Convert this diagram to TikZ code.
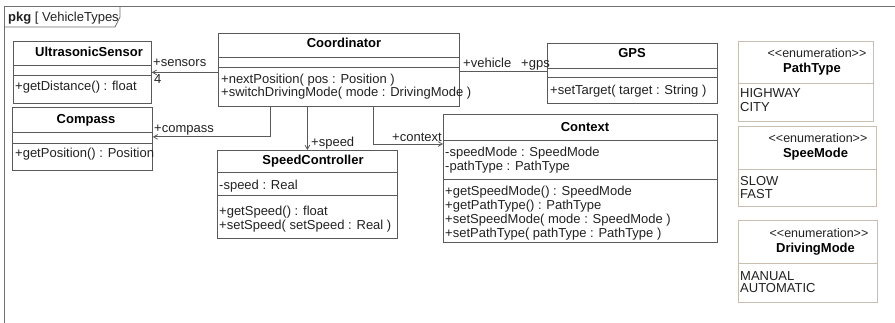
\documentclass[tikz,border=0pt]{standalone}
\usepackage{fontspec}
\setmainfont{Liberation Sans}
\usetikzlibrary{arrows,positioning,calc}

\definecolor{umlgray}{HTML}{5A5A5A}
\definecolor{framegray}{HTML}{707070}
\definecolor{enumtan}{HTML}{C8BEB2}
\definecolor{inkgray}{HTML}{222222}

\tikzset{
  umlbox/.style={draw=umlgray, line width=0.8pt, anchor=north west, inner sep=0pt},
  enumbox/.style={umlbox, draw=enumtan},
  part/.style={draw=umlgray, line width=0.8pt},
  enumpart/.style={draw=enumtan, line width=0.8pt},
  member/.style={anchor=base west, inner sep=0pt, text=inkgray},
  classname/.style={anchor=base, inner sep=0pt, font=\fontsize{13}{14}\selectfont\bfseries},
  stereo/.style={anchor=base, inner sep=0pt, text=inkgray, font=\fontsize{12.5}{14}\selectfont},
  assoc/.style={draw=umlgray, line width=0.8pt, ->, >=angle 60},
  link/.style={draw=umlgray, line width=0.8pt},
}

\begin{document}
\begin{tikzpicture}[x=1pt, y=-1pt, every node/.style={font=\fontsize{13}{14}\selectfont}]

\path[fill=white, use as bounding box] (0,0) rectangle (895,323);

% package frame
\draw[framegray, line width=0.9pt] (4,323) -- (4,6) -- (895,6);
\draw[framegray, line width=0.8pt] (4,27) -- (115,27) -- (120,17) -- (120,6);
\node[member] (pkg) at (8,21.5) {\textbf{pkg} [ VehicleTypes};

% classes
\node[umlbox, minimum width=138, minimum height=62] (us) at (13,41) {};
\draw[part] (us.west |- 0,65) -- (us.east |- 0,65);
\draw[part] (us.west |- 0,75) -- (us.east |- 0,75);
\node[classname] (usname) at (89,57) {UltrasonicSensor};
\node[member] (usop) at (15,91) {+getDistance() : float};

\node[umlbox, minimum width=140, minimum height=63] (comp) at (12,107) {};
\draw[part] (comp.west |- 0,132) -- (comp.east |- 0,132);
\draw[part] (comp.west |- 0,143) -- (comp.east |- 0,143);
\node[classname] (compname) at (86,123.5) {Compass};
\node[member] (compop) at (15,158) {+getPosition() : Position};

\node[umlbox, minimum width=241, minimum height=73] (coord) at (218,33) {};
\draw[part] (coord.west |- 0,57) -- (coord.east |- 0,57);
\draw[part] (coord.west |- 0,67) -- (coord.east |- 0,67);
\node[classname] (coordname) at (344,48) {Coordinator};
\node[member] (coordopa) at (221,83.5) {+nextPosition( pos : Position )};
\node[member] (coordopb) at (221,97) {+switchDrivingMode( mode : DrivingMode )};

\node[umlbox, minimum width=170, minimum height=60] (gps) at (547,43) {};
\draw[part] (gps.west |- 0,68) -- (gps.east |- 0,68);
\draw[part] (gps.west |- 0,77) -- (gps.east |- 0,77);
\node[classname] (gpsname) at (632,57.5) {GPS};
\node[member] (gpsop) at (550,94.5) {+setTarget( target : String )};

\node[umlbox, minimum width=274, minimum height=128] (ctx) at (443,114) {};
\draw[part] (ctx.west |- 0,140) -- (ctx.east |- 0,140);
\draw[part] (ctx.west |- 0,179) -- (ctx.east |- 0,179);
\node[classname] (ctxname) at (585,131.5) {Context};
\node[member] (ctxattra) at (445,156.5) {-speedMode : SpeedMode};
\node[member] (ctxattrb) at (445,170.5) {-pathType : PathType};
\node[member] (ctxopa) at (445,195.5) {+getSpeedMode() : SpeedMode};
\node[member] (ctxopb) at (445,209.5) {+getPathType() : PathType};
\node[member] (ctxopc) at (445,223.5) {+setSpeedMode( mode : SpeedMode )};
\node[member] (ctxopd) at (445,237.5) {+setPathType( pathType : PathType )};

\node[umlbox, minimum width=180, minimum height=88] (sc) at (217,150) {};
\draw[part] (sc.west |- 0,172) -- (sc.east |- 0,172);
\draw[part] (sc.west |- 0,195) -- (sc.east |- 0,195);
\node[classname] (scname) at (313,165) {SpeedController};
\node[member] (scattr) at (219,189.5) {-speed : Real};
\node[member] (scopa) at (219,215.5) {+getSpeed() : float};
\node[member] (scopb) at (219,229.5) {+setSpeed( setSpeed : Real )};

% enumerations
\node[enumbox, minimum width=135, minimum height=80] (pt) at (738,41) {};
\draw[enumpart] (pt.west |- 0,83) -- (pt.east |- 0,83);
\node[stereo] (ptst) at (817,57.5) {<{}<enumeration>{}>};
\node[classname] (ptname) at (812,72.5) {PathType};
\node[member] (ptlita) at (740,97.5) {HIGHWAY};
\node[member] (ptlitb) at (740,111.5) {CITY};

\node[enumbox, minimum width=138, minimum height=80] (sm) at (738,126) {};
\draw[enumpart] (sm.west |- 0,169) -- (sm.east |- 0,169);
\node[stereo] (smst) at (818,142.5) {<{}<enumeration>{}>};
\node[classname] (smname) at (815.5,157.5) {SpeeMode};
\node[member] (smlita) at (740,185.5) {SLOW};
\node[member] (smlitb) at (740,198.5) {FAST};

\node[enumbox, minimum width=139, minimum height=82] (dm) at (738,220) {};
\draw[enumpart] (dm.west |- 0,263) -- (dm.east |- 0,263);
\node[stereo] (dmst) at (819,237.5) {<{}<enumeration>{}>};
\node[classname] (dmname) at (815.5,252.5) {DrivingMode};
\node[member] (dmlita) at (740,280.5) {MANUAL};
\node[member] (dmlitb) at (740,292.5) {AUTOMATIC};

% associations
\draw[assoc] (coord.west |- us.east) -- (us.east);
\node[member] (sensors) at (153,66.5) {+sensors};
\node[member] (mult) at (154,83.5) {4};

\draw[assoc] ([xshift=52pt]coord.south west) |- ([yshift=2pt]comp.east);
\node[member] (compass) at (154,132.5) {+compass};

\draw[assoc] (sc.north |- coord.south) -- (sc.north);
\node[member] (speed) at (311,146.5) {+speed};

\draw[assoc] ([xshift=155pt]coord.south west) |- ([yshift=-30pt]ctx.north west);
\node[member] (context) at (392,141.5) {+context};

\draw[link] ([yshift=-1.5pt]coord.east) -- ([yshift=-1.5pt]coord.east -| gps.west);
\node[member] (vehicle) at (463,67.5) {+vehicle};
\node[member] (gpsrole) at (521,67.5) {+gps};

\end{tikzpicture}
\end{document}
